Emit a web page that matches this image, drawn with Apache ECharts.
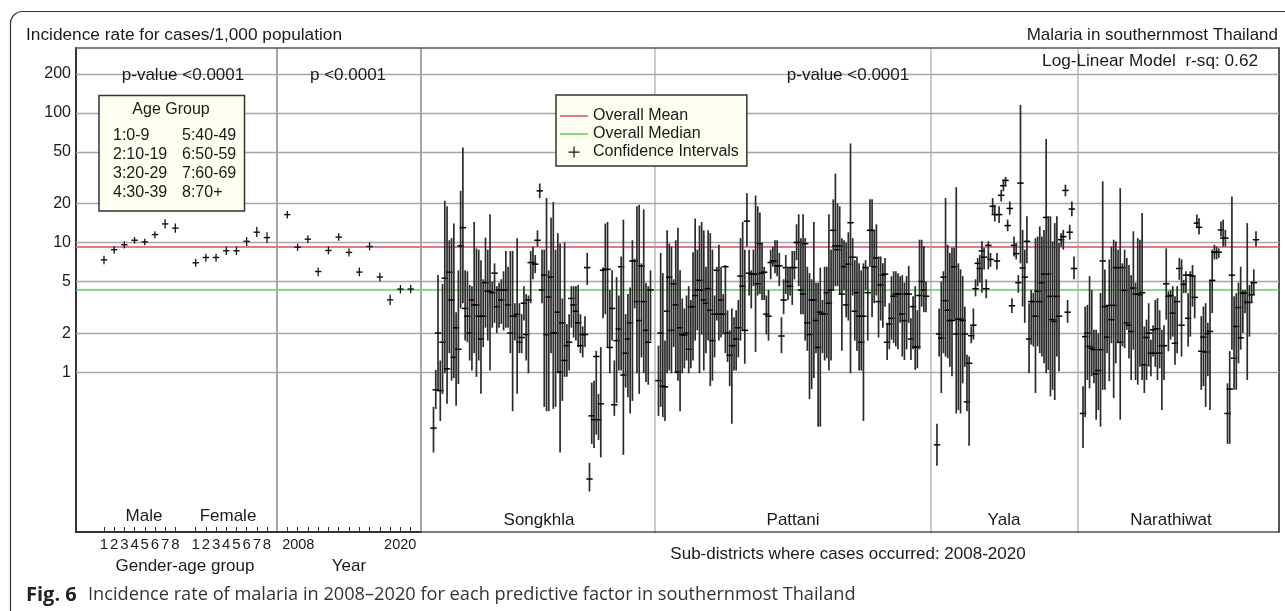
<!DOCTYPE html>
<html><head><meta charset="utf-8">
<script src="https://cdn.jsdelivr.net/npm/echarts@6/dist/echarts.min.js"></script>
<style>html,body{margin:0;padding:0;background:#fff}#c{width:1285px;height:611px}</style>
</head><body><div id="c"></div><script>
// ---------------- DATA ----------------
const ageGroupLabels = ['1','2','3','4','5','6','7','8'];
const maleRate   = [7.35, 8.8, 9.6, 10.4, 10.1, 11.5, 13.9, 12.9];
const maleLo     = [6.8, 8.2, 9.0, 9.8, 9.5, 10.8, 12.8, 11.9];
const maleHi     = [7.9, 9.4, 10.2, 11.0, 10.7, 12.2, 15.1, 14.0];
const femaleRate = [6.97, 7.66, 7.66, 8.63, 8.63, 10.2, 12.0, 10.9];
const femaleLo   = [6.5, 7.1, 7.1, 8.0, 8.0, 9.4, 11.0, 9.9];
const femaleHi   = [7.5, 8.2, 8.2, 9.3, 9.3, 11.0, 13.2, 12.0];

const years    = [2008,2009,2010,2011,2012,2013,2014,2015,2016,2017,2018,2019,2020];
const yearRate = [16.4, 9.2, 10.6, 5.97, 8.67, 11.0, 8.38, 5.91, 9.31, 5.41, 3.61, 4.37, 4.37];
const yearLo   = [15.3, 8.6, 9.9, 5.5, 8.1, 10.3, 7.8, 5.5, 8.7, 5.0, 3.3, 4.05, 4.05];
const yearHi   = [17.5, 9.8, 11.3, 6.4, 9.3, 11.8, 9.0, 6.4, 10.0, 5.85, 3.95, 4.7, 4.7];
const yearLabels = [2008, 2020];

const yGridValues = [1, 2, 5, 10, 20, 50, 100, 200];
const overallMean = 9.27;
const overallMedian = 4.31;

const provinces = ['Songkhla', 'Pattani', 'Yala', 'Narathiwat'];

const songkhlaRate = [0.37,0.73,2.0,0.72,1.7,5.3,1.06,5.9,3.6,1.3,2.2,1.5,9.4,13,3.1,2.7,2.0,3.6,3.3,3.3,2.7,1.8,2.7,4.9,4.2,4.2,4.1,5.8,3.2,4.3,3.6,4.3,4.3,3.3,2.0,2.7,2.7,2.8,1.7,1.85,3.4,1.95,3.6,7.0,7.0,6.8,10.4,25,
 4.3,5.6,1.95,3.8,5.4,2.0,2.0,2.9,1.0,2.4,1.23,1.6,1.7,3.7,3.3,2.95,2.4,1.6,1.95,1.95,6.4,0.15,0.46,0.43,1.32,0.43,0.57,6.1,6.2,6.2,1.55,3.1,0.56,1.75,2.15,6.5,0.95,1.4,1.8,2.4,7.2,7.2,3.5,2.5,6.6,3.5,2.1,1.7,4.3];
const songkhlaLo = [0.24,0.52,0.74,0.42,0.68,0.98,0.57,1.4,0.86,0.9,0.55,0.81,3.1,3.4,1.75,1.7,1.23,1.03,1.4,0.92,1.23,0.68,1.56,2.2,1.75,1.03,2.2,2.4,2.0,2.2,2.35,2.1,2.2,2.2,1.4,0.5,1.75,0.68,1.4,1.4,2.5,1.23,0.98,3.4,5.2,5.8,9.3,22,
 3.4,0.54,0.5,0.5,1.4,0.52,0.54,0.98,0.24,0.6,0.92,0.92,1.03,2.2,1.85,1.75,1.56,1.4,1.3,1.56,4.7,0.12,0.28,0.26,0.33,0.3,0.22,2.6,2.8,1.56,0.98,1.75,0.46,0.58,1.03,1.03,0.23,0.76,0.64,0.48,0.6,3.1,0.98,0.68,1.3,0.98,0.84,0.8,1.75];
const songkhlaHi = [0.54,1.04,5.6,1.23,4.8,21,19,10.4,10.8,14,2.9,6.1,25,54,6.1,6.0,4.7,4.6,14.4,9.0,8.8,7.3,5.2,10.9,8.8,16.5,5.0,6.9,4.6,4.9,5.2,6.0,8.6,6.5,8.6,8.6,3.4,10.8,3.4,2.8,4.6,4.0,3.9,8.6,9.3,8.0,12.4,28.5,
 8.8,8.8,22,6.1,15.5,20.5,8.8,11.8,9.8,3.7,10,2.35,2.8,4.6,4.6,4.6,4.7,2.8,2.25,2.7,8.3,0.2,0.83,0.86,1.46,0.68,1.56,6.4,14,14.4,4.3,6.1,1.23,5.4,3.9,7.8,15,2.8,4.0,4.5,10.4,7.5,19,19.5,6.9,18,4.9,4.6,6.1];

const pattaniRate = [0.86,2.0,0.78,0.77,2.95,5.4,2.1,4.8,3.3,1.0,2.2,1.95,1.93,2.0,1.5,3.2,3.2,3.9,4.3,5.1,4.3,3.6,3.4,4.4,3.0,1.75,2.8,6.1,2.8,3.6,2.8,6.5,2.0,1.35,1.6,1.6,1.8,2.2,5.5,4.6,2.1,14.6,5.8,5.7,5.7,5.7,4.8,9.8,5.8,5.9,2.8,2.7,
 7.0,7.2,7.2,6.6,6.6,1.9,3.6,6.4,5.0,4.6,6.4,6.4,10,10,4.3,4.0,9.8,2.4,1.95,3.6,3.6,2.5,1.55,2.9,2.8,2.8,4.1,3.4,4.3,12.4,9.4,8.8,9.4,4.0,6.5,3.3,6.8,14.2,7.7,2.95,4.1,2.7,1.7,2.7,6.4,4.1,12.4,12.4,6.5,7.6,3.5,4.7,5.6,
 5.7,1.7,2.35,2.6,3.85,4.0,4.0,4.0,2.8,2.5,4.0,4.0,1.8,3.2,1.56,1.56,3.9,5.0,4.3,3.85];
const pattaniLo = [0.46,0.54,0.45,0.42,0.98,1.03,0.98,1.56,0.98,0.86,0.5,0.98,1.07,1.23,0.98,1.07,1.23,1.75,2.1,0.98,1.95,1.03,1.4,1.75,0.78,0.86,1.3,2.5,1.75,1.85,1.95,1.4,1.2,0.78,0.4,1.03,1.03,1.3,1.75,2.1,1.16,9.3,3.9,3.1,4.6,1.43,3.9,4.0,3.6,3.6,1.95,1.75,
 5.2,6.5,5.8,5.5,4.6,1.4,2.8,4.0,3.6,3.9,3.3,5.2,7.3,4.6,2.8,2.8,1.75,1.46,0.62,0.74,0.9,1.4,0.38,0.38,1.4,1.23,1.28,1.03,1.23,4.3,4.6,4.6,4.0,1.46,4.3,2.65,2.5,0.98,3.9,1.75,1.46,1.03,1.03,0.42,4.3,1.75,6.5,2.65,3.4,3.9,1.85,2.5,2.2,
 3.2,1.24,1.5,1.78,1.68,1.58,1.5,2.4,1.32,1.24,1.5,2.4,1.24,1.5,1.04,1.07,1.5,3.2,2.9,2.9];
const pattaniHi = [1.6,8.3,5.8,1.75,12.4,9.8,9.3,5.2,10.4,13,6.1,3.7,3.1,3.9,4.6,3.6,8.4,15.3,8.8,13.5,14.4,12.4,6.5,12.4,11.8,8.8,3.9,6.5,9.6,6.5,4.0,6.7,3.0,2.1,3.1,2.65,3.0,3.6,10.8,14.4,8.8,24,8.8,6.1,8.8,23,19,17,9.8,6.5,3.9,4.3,
 8.8,9.3,10.4,10.4,8.3,2.65,5.2,8.0,6.5,6.5,8.6,8.6,13.8,16.5,10.8,16.5,10.8,6.5,5.8,5.2,14.4,4.9,4.9,6.4,3.6,6.5,6.5,16.5,8.8,21.5,34,20,19,10.8,10.4,10,12,58,10.8,7.3,7.8,6.9,6.1,6.9,7.3,6.5,21.5,21.5,12.4,13.8,7.8,7.8,6.9,
 7.6,2.4,3.4,5.5,6.0,6.0,5.8,5.5,5.6,4.9,5.5,6.6,2.6,3.85,4.6,3.0,10.5,10.5,9.4,5.0];

const yalaRate = [0.275,1.97,1.83,5.4,3.56,3.0,2.5,2.5,6.5,1.97,2.56,2.56,2.5,1.97,0.59,1.17,1.91,2.3,4.4,6.9,6.3,8.6,7.7,4.4,9.5,7.4,19,16.4,7.2,16.4,23.1,27.4,30.1,13.5,18.3,3.25,9.5,8.2,4.9,28.7,6.35,5.4,10.2,1.8,3.5,3.5,2.7,4.2,3.5,4.9,5.7,15.6,5.7,3.84,2.54,2.46,3.84,2.7,10.5,11.1,25.2,2.9,12.0,18.1,6.3];
const yalaLo = [0.19,1.32,0.69,1.4,1.32,1.28,1.1,0.93,2.54,0.48,0.51,0.48,0.82,1.1,0.5,0.27,1.67,1.78,3.84,4.6,4.9,4.1,6.2,3.72,6.2,6.5,16.4,14.5,6.2,14.1,20.7,24.8,27.1,12.2,16.4,2.86,7.8,7.4,4.1,6.9,3.2,2.4,6.9,0.98,1.63,1.58,0.69,1.58,1.4,1.32,1.17,0.98,1.04,0.65,0.73,0.61,1.32,1.01,9.3,8.8,22.7,2.4,10.5,15.9,5.2];
const yalaHi = [0.4,3.1,5.0,6.0,22,9.6,8.3,9.1,9.1,26.7,6.9,6.2,5.5,3.2,1.36,1.32,2.25,3.1,5.2,7.6,8.05,10.2,9.1,5.2,10.2,8.3,22,19.5,8.3,19,25.5,30.5,32,15,20.7,3.72,11.1,9.9,5.6,115,12.5,8.8,15.9,3.4,4.3,4.1,10.8,11.1,13.3,11.1,12.5,62.8,15.9,15.9,10.2,14.1,15.9,9.9,11.8,12.5,27.9,3.6,13.7,20.7,7.8];

const narathiwatRate = [0.48,1.88,2.0,1.58,1.53,1.49,0.97,1.03,1.49,7.2,3.2,1.86,3.27,2.54,3.27,6.4,6.4,1.7,6.4,4.27,2.4,2.3,2.06,4.45,4.0,4.0,3.95,4.1,1.14,1.85,2.0,1.4,2.12,1.4,2.16,1.4,1.6,1.6,4.8,3.84,3.9,2.85,1.67,3.5,6.3,2.3,4.75,5.6,2.6,5.6,5.5,3.77,14.1,13.1,1.45,1.86,1.43,1.98,2.06,5.1,8.4,8.4,8.4,12.5,10.8,10.8,0.48,0.74,5.6,1.28,2.25,3.15,1.84,4.07,4.07,3.45,3.45,3.95,4.9,10.5];
const narathiwatLo = [0.26,0.45,0.87,0.75,0.93,0.82,0.43,0.51,0.38,0.73,0.73,1.4,0.85,1.67,0.63,1.17,1.67,0.43,1.58,1.53,2.12,1.28,0.87,1.49,0.87,0.8,1.1,0.87,0.69,0.87,1.1,0.93,1.32,1.1,0.87,1.07,0.51,0.87,2.54,1.45,1.78,1.88,1.14,1.4,5.15,1.32,4.07,4.07,1.58,1.88,3.2,2.6,12.9,11.5,0.73,0.78,0.54,0.93,0.51,2.85,7.4,7.4,7.6,11.1,9.3,9.3,0.28,0.28,1.49,0.73,0.73,1.17,1.49,2.0,2.85,0.87,1.88,3.4,3.95,9.3];
const narathiwatHi = [0.78,3.2,3.3,5.5,4.3,2.12,2.12,2.0,4.07,29.6,6.2,3.3,7.4,9.3,10.5,10.2,8.8,26.2,6.9,8.8,7.6,6.7,5.6,12.2,4.9,10.8,10.5,16.9,2.25,2.54,3.4,1.78,2.3,3.6,3.72,3.0,2.12,2.3,9.0,4.2,4.3,4.6,3.84,4.6,7.6,7.4,5.15,6.0,4.07,6.0,6.7,5.5,16.4,15.4,2.7,3.2,3.4,2.4,5.15,8.8,9.6,9.3,9.0,14.5,15.0,12.5,0.82,1.45,22.6,3.84,4.07,4.9,6.5,4.3,4.3,14.1,4.7,5.0,6.2,12.2];

// ---------------- LAYOUT ----------------
const FONT = '"Liberation Sans", Arial, Helvetica, sans-serif';
const CAPFONT = '"Open Sans", "Noto Sans", sans-serif';
const TXT = '#1a1a1a';
const PLOT_TOP = 48, PLOT_H = 484;
const Y_MIN = 0.0585, Y_MAX = 316;
// panel pixel layout: [left, right, firstMarkPx, lastMarkPx]
const provLayout = [
  [421, 655, 433.5, 650.5],
  [655, 931, 658.5, 926],
  [931, 1078, 937, 1074],
  [1078, 1279, 1083, 1256]
];
const provRate = [songkhlaRate, pattaniRate, yalaRate, narathiwatRate];
const provLo = [songkhlaLo, pattaniLo, yalaLo, narathiwatLo];
const provHi = [songkhlaHi, pattaniHi, yalaHi, narathiwatHi];
const provLabelX = [539, 793, 1004, 1171];

function ciRenderer(o) {
  return function (params, api) {
    const x = api.value(0);
    const t = api.coord([x, api.value(3)]);
    const b = api.coord([x, api.value(2)]);
    const m = api.coord([x, api.value(1)]);
    return { type: 'group', children: [
      { type: 'line', shape: { x1: t[0], y1: t[1], x2: b[0], y2: b[1] }, style: { stroke: o.v, lineWidth: o.vw } },
      { type: 'line', shape: { x1: m[0] - o.half, y1: m[1], x2: m[0] + o.half, y2: m[1] }, style: { stroke: o.h, lineWidth: o.hw } }
    ]};
  };
}

function logY(gridIndex, lineColor, lineWidth, pos) {
  return { type: 'log', gridIndex, min: Y_MIN, max: Y_MAX, position: pos || 'left',
    axisLine: { show: !!lineColor, onZero: false, lineStyle: { color: lineColor || '#000', width: lineWidth || 1 } },
    axisTick: { show: false }, axisLabel: { show: false }, splitLine: { show: false } };
}

const grids = [
  { left: 76, top: PLOT_TOP, width: 1203, height: PLOT_H },
  { left: 76, top: PLOT_TOP, width: 201, height: PLOT_H },
  { left: 277, top: PLOT_TOP, width: 144, height: PLOT_H }
];
provLayout.forEach(p => grids.push({ left: p[0], top: PLOT_TOP, width: p[1] - p[0], height: PLOT_H }));

// gender-age x axis: male i -> i, female i -> i + 9
const gaMale1Px = 104, gaFemale8Px = 267;
const gaStep = (gaFemale8Px - gaMale1Px) / 16;
const gaMin = 1 - (gaMale1Px - 76) / gaStep, gaMax = 17 + (277 - gaFemale8Px) / gaStep;
const gaPositions = ageGroupLabels.map((_, i) => i + 1).concat(ageGroupLabels.map((_, i) => i + 10));

const xAxes = [
  { type: 'value', gridIndex: 0, min: 0, max: 1, position: 'top',
    axisLine: { show: true, onZero: false, lineStyle: { color: '#555', width: 1.5 } }, axisTick: { show: false }, axisLabel: { show: false }, splitLine: { show: false } },
  { type: 'value', gridIndex: 1, min: gaMin, max: gaMax,
    axisLine: { show: true, onZero: false, lineStyle: { color: '#333', width: 2 } },
    axisTick: { show: true, inside: true, length: 5, customValues: gaPositions, lineStyle: { color: '#333', width: 1 } },
    axisLabel: { show: true, customValues: gaPositions, formatter: v => String(v > 9 ? v - 9 : v), fontFamily: FONT, fontSize: 15, color: TXT, margin: 5 },
    splitLine: { show: false },
    name: 'Gender-age group', nameLocation: 'middle', nameGap: 26,
    nameTextStyle: { fontFamily: FONT, fontSize: 17, color: TXT, padding: [0, 0, 0, 17] } },
  { type: 'value', gridIndex: 2, min: 2007, max: 2021,
    axisLine: { show: true, onZero: false, lineStyle: { color: '#333', width: 2 } },
    axisTick: { show: true, inside: true, length: 5, customValues: years, lineStyle: { color: '#333', width: 1 } },
    axisLabel: { show: true, customValues: yearLabels,
      formatter: v => v === 2008 ? '{l|2008}' : '{r|' + v + '}',
      rich: { l: { padding: [0, 0, 0, 22], fontFamily: FONT, fontSize: 14.5, color: TXT }, r: { padding: [0, 21, 0, 0], fontFamily: FONT, fontSize: 14.5, color: TXT } },
      fontFamily: FONT, fontSize: 14.5, color: TXT, margin: 5 },
    splitLine: { show: false },
    name: 'Year', nameLocation: 'middle', nameGap: 26,
    nameTextStyle: { fontFamily: FONT, fontSize: 17, color: TXT } }
];
const yAxes = [
  logY(0, '#333', 2, 'left'),
  logY(0, '#555', 2, 'right'),
  logY(1, null),
  logY(2, '#888', 1.5),
  logY(3, '#888', 1.5),
  logY(4, '#cbcbcb', 2),
  logY(5, '#cbcbcb', 2),
  logY(6, '#cbcbcb', 2)
];
provLayout.forEach((p, k) => {
  const n = provRate[k].length;
  const s = (p[3] - p[2]) / (n - 1);
  xAxes.push({ type: 'value', gridIndex: 3 + k, min: -(p[2] - p[0]) / s, max: (n - 1) + (p[1] - p[3]) / s,
    axisLine: { show: true, onZero: false, lineStyle: { color: '#555', width: 1.5 } }, axisTick: { show: false }, axisLabel: { show: false }, splitLine: { show: false } });
});

const smallCI = ciRenderer({ v: '#111', vw: 1.3, h: '#111', hw: 1.4, half: 3.2 });
const bigCI = ciRenderer({ v: '#2b2b2b', vw: 1.7, h: '#000', hw: 1.5, half: 3.2 });

const series = [
  { name: 'grid', type: 'line', xAxisIndex: 0, yAxisIndex: 0, data: [], silent: true, z: 1,
    markLine: { silent: true, symbol: 'none', z: 1, animation: false,
      lineStyle: { color: '#a6a6a6', width: 1.3, type: 'solid' },
      label: { show: true, position: 'start', distance: 5, formatter: p => String(p.value), fontFamily: FONT, fontSize: 16, color: TXT },
      emphasis: { disabled: true },
      data: yGridValues.map(v => ({ yAxis: v })) } },
  { name: 'Overall Mean', type: 'line', xAxisIndex: 0, yAxisIndex: 0, data: [], symbol: 'none', color: '#e57a86',
    lineStyle: { color: '#e57a86', width: 2 }, z: 2,
    markLine: { silent: true, symbol: 'none', z: 2, animation: false, label: { show: false }, emphasis: { disabled: true },
      lineStyle: { color: '#e57a86', width: 2, type: 'solid' }, data: [{ yAxis: overallMean }] } },
  { name: 'Overall Median', type: 'line', xAxisIndex: 0, yAxisIndex: 0, data: [], symbol: 'none', color: '#5fd05f',
    lineStyle: { color: '#5fd05f', width: 1.5 }, z: 2,
    markLine: { silent: true, symbol: 'none', z: 2, animation: false, label: { show: false }, emphasis: { disabled: true },
      lineStyle: { color: '#5fd05f', width: 1.5, type: 'solid' }, data: [{ yAxis: overallMedian }] } },
  { name: 'Confidence Intervals', type: 'custom', xAxisIndex: 1, yAxisIndex: 2, z: 3, silent: true,
    itemStyle: { color: '#111' }, renderItem: smallCI,
    data: maleRate.map((v, i) => [i + 1, v, maleLo[i], maleHi[i]]).concat(femaleRate.map((v, i) => [i + 10, v, femaleLo[i], femaleHi[i]])) },
  { name: 'Confidence Intervals', type: 'custom', xAxisIndex: 2, yAxisIndex: 3, z: 3, silent: true,
    itemStyle: { color: '#111' }, renderItem: smallCI,
    data: yearRate.map((v, i) => [years[i], v, yearLo[i], yearHi[i]]) }
];
provRate.forEach((arr, k) => {
  series.push({ name: 'Confidence Intervals', type: 'custom', xAxisIndex: 3 + k, yAxisIndex: 4 + k, z: 3, silent: true,
    itemStyle: { color: '#111' }, renderItem: bigCI,
    data: arr.map((v, i) => [i, v, provLo[k][i], provHi[k][i]]) });
});

function txt(text, x, y, o) {
  o = o || {};
  const a = o.align || 'center';
  return { type: 'text', x, y, z: 20, silent: true,
    style: { text, fill: o.fill || TXT, font: (o.weight || 'normal') + ' ' + (o.size || 17) + 'px ' + (o.family || FONT),
      align: a, textAlign: a, verticalAlign: 'middle', textVerticalAlign: 'middle' } };
}

const graphics = [
  { type: 'rect', z: 0, silent: true, shape: { x: 10.5, y: 11.5, width: 1320, height: 640, r: 12 }, style: { fill: 'none', stroke: '#333', lineWidth: 1.2 } },
  txt('Incidence rate for cases/1,000 population', 26, 35.5, { align: 'left', size: 17.3 }),
  txt('Malaria in southernmost Thailand', 1278, 35.5, { align: 'right' }),
  txt('Log-Linear Model  r-sq: 0.62', 1258, 61, { align: 'right', size: 17.2 }),
  txt('p-value <0.0001', 183, 75.5),
  txt('p <0.0001', 348, 75.5),
  txt('p-value <0.0001', 848, 75.5),
  txt('Male', 144, 516),
  txt('Female', 228, 516),
  txt('Sub-districts where cases occurred: 2008-2020', 848, 554),
  { type: 'rect', z: 15, silent: true, shape: { x: 99, y: 95.5, width: 145.5, height: 115.5 }, style: { fill: '#fffff0', stroke: '#333', lineWidth: 1.5 } },
  txt('Age Group', 171, 110, { size: 16 }),
  txt('1:0-9', 113, 136, { size: 16, align: 'left' }),
  txt('2:10-19', 113, 155, { size: 16, align: 'left' }),
  txt('3:20-29', 113, 174, { size: 16, align: 'left' }),
  txt('4:30-39', 113, 193, { size: 16, align: 'left' }),
  txt('5:40-49', 182, 136, { size: 16, align: 'left' }),
  txt('6:50-59', 182, 155, { size: 16, align: 'left' }),
  txt('7:60-69', 182, 174, { size: 16, align: 'left' }),
  txt('8:70+', 182, 193, { size: 16, align: 'left' }),
  txt('Fig. 6', 26, 595, { align: 'left', weight: 'bold', size: 20, family: CAPFONT, fill: '#222' }),
  txt('Incidence rate of malaria in 2008\u20132020 for each predictive factor in southernmost Thailand', 88, 595, { align: 'left', size: 18.2, family: CAPFONT, fill: '#333' })
];
provinces.forEach((p, k) => graphics.push(txt(p, provLabelX[k], 520)));

const option = {
  animation: false,
  backgroundColor: '#ffffff',
  grid: grids,
  xAxis: xAxes,
  yAxis: yAxes,
  legend: {
    show: true, orient: 'vertical', left: 556, top: 95, selectedMode: false,
    backgroundColor: '#fffff0', borderColor: '#333', borderWidth: 1.5, borderRadius: 0,
    padding: [13, 8, 6, 4], itemGap: 2, itemWidth: 28, itemHeight: 11,
    textStyle: { fontFamily: FONT, fontSize: 16, color: TXT },
    data: [
      { name: 'Overall Mean', icon: 'path://M0,0 H28 V2 H0 Z', itemStyle: { color: '#e57a86' } },
      { name: 'Overall Median', icon: 'path://M0,0 H28 V1.5 H0 Z', itemStyle: { color: '#5fd05f' } },
      { name: 'Confidence Intervals', icon: 'path://M4.5,0 H5.6 V4.5 H10 V5.6 H5.6 V10 H4.5 V5.6 H0 V4.5 H4.5 Z', itemStyle: { color: '#111' } }
    ]
  },
  graphic: { elements: graphics },
  series
};

const chart = echarts.init(document.getElementById('c'), null, { renderer: 'canvas', width: 1285, height: 611 });
chart.setOption(option);
</script></body></html>
